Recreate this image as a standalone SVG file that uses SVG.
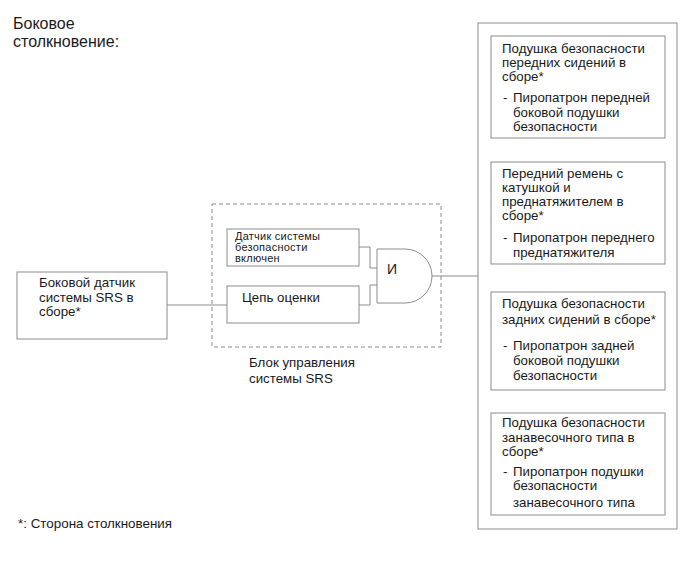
<svg xmlns="http://www.w3.org/2000/svg" width="689" height="562" viewBox="0 0 689 562">
<style>
text{font-family:"Liberation Sans",Arial,sans-serif;fill:#1a1a1a;font-size:13.3px}
.box{fill:#fff;stroke:#8c8c8c;stroke-width:1}
.ln{fill:none;stroke:#8c8c8c;stroke-width:1}
.dash{fill:none;stroke:#8c8c8c;stroke-width:1;stroke-dasharray:4 3}
.sm{font-size:11px;letter-spacing:0.25px}
.big{font-size:16px}
.fn{font-size:13.4px}
</style>
<rect width="689" height="562" fill="#fff"/>
<g id="title">
<text class="big" x="13" y="29">Боковое</text>
<text class="big" x="13" y="47">столкновение:</text>
</g>
<g id="connectors">
<line class="ln" x1="167" y1="305" x2="227" y2="305"/>
<polyline class="ln" points="359,247 370,247 370,268 377,268"/>
<polyline class="ln" points="359,305 370,305 370,285 377,285"/>
<line class="ln" x1="432" y1="276" x2="478" y2="276"/>
</g>
<g id="side-sensor">
<rect class="box" x="17" y="272" width="150" height="67"/>
<text x="39" y="287">Боковой датчик</text>
<text x="39" y="302">системы SRS в</text>
<text x="39" y="316">сборе*</text>
</g>
<g id="srs-unit">
<rect class="dash" x="212" y="204" width="229" height="143"/>
<text x="249" y="367">Блок управления</text>
<text x="249" y="383">системы SRS</text>
</g>
<g id="safing-sensor">
<rect class="box" x="227" y="229" width="132" height="37"/>
<text class="sm" x="235" y="240">Датчик системы</text>
<text class="sm" x="235" y="251">безопасности</text>
<text class="sm" x="235" y="262">включен</text>
</g>
<g id="judgment">
<rect class="box" x="227" y="286" width="132" height="37"/>
<text x="242" y="302">Цепь оценки</text>
</g>
<g id="and-gate">
<path class="box" d="M377,249 H405 A27,27 0 0 1 405,303 H377 Z"/>
<text x="387" y="274" style="font-size:14px">И</text>
</g>
<g id="outputs">
<rect class="box" x="478" y="23" width="199" height="506"/>
</g>
<g id="front-airbag">
<rect class="box" x="491" y="36" width="174" height="102"/>
<text x="502" y="53">Подушка безопасности</text>
<text x="502" y="67">передних сидений в</text>
<text x="502" y="81">сборе*</text>
<text x="503" y="102">-</text>
<text x="513" y="102">Пиропатрон передней</text>
<text x="513" y="117">боковой подушки</text>
<text x="513" y="131">безопасности</text>
</g>
<g id="front-belt">
<rect class="box" x="491" y="162" width="174" height="102"/>
<text x="502" y="178">Передний ремень с</text>
<text x="502" y="192">катушкой и</text>
<text x="502" y="206">преднатяжителем в</text>
<text x="502" y="220">сборе*</text>
<text x="503" y="242">-</text>
<text x="513" y="242">Пиропатрон переднего</text>
<text x="513" y="257">преднатяжителя</text>
</g>
<g id="rear-airbag">
<rect class="box" x="491" y="292" width="174" height="98"/>
<text x="502" y="308">Подушка безопасности</text>
<text x="502" y="324">задних сидений в сборе*</text>
<text x="503" y="350">-</text>
<text x="513" y="350">Пиропатрон задней</text>
<text x="513" y="365">боковой подушки</text>
<text x="513" y="380">безопасности</text>
</g>
<g id="curtain-airbag">
<rect class="box" x="491" y="413" width="174" height="102"/>
<text x="502" y="427">Подушка безопасности</text>
<text x="502" y="442">занавесочного типа в</text>
<text x="502" y="456">сборе*</text>
<text x="503" y="476">-</text>
<text x="513" y="476">Пиропатрон подушки</text>
<text x="513" y="490">безопасности</text>
<text x="513" y="507">занавесочного типа</text>
</g>
<g id="footnote">
<text class="fn" x="18" y="528">*: Сторона столкновения</text>
</g>
</svg>
